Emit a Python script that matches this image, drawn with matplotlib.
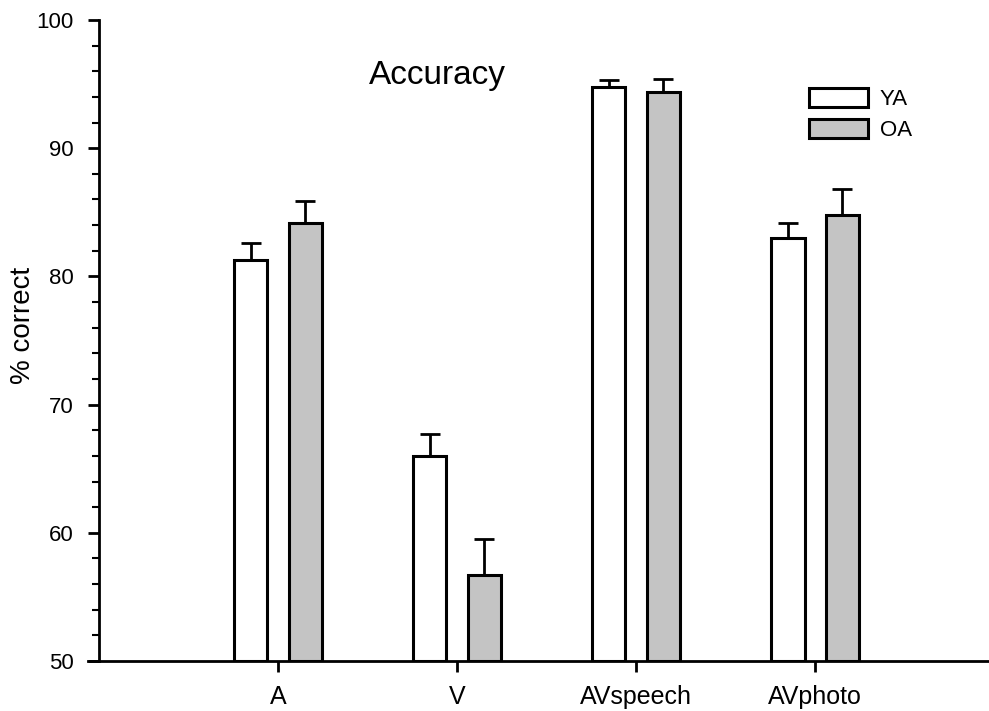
import matplotlib
matplotlib.use("Agg")
import matplotlib.pyplot as plt
import numpy as np

conditions = ["A", "V", "AVspeech", "AVphoto"]
ya_mean = [81.3, 66.0, 94.8, 83.0]
ya_err = [1.3, 1.7, 0.5, 1.2]
oa_mean = [84.2, 56.7, 94.4, 84.8]
oa_err = [1.7, 2.8, 1.0, 2.0]

plt.rcParams["font.family"] = ["Liberation Sans", "DejaVu Sans"]

fig = plt.figure(figsize=(9.89, 7.11), dpi=100)
ax = fig.add_axes([88 / 989, 50 / 711, 901 / 989, 641 / 711])

x = np.arange(1, len(conditions) + 1)
width = 0.185
offset = 0.152

ax.bar(x - offset, np.array(ya_mean) - 50, width, bottom=50, color="white",
       edgecolor="black", linewidth=2.2, label="YA", zorder=2)
ax.bar(x + offset, np.array(oa_mean) - 50, width, bottom=50, color="#c4c4c4",
       edgecolor="black", linewidth=2.2, label="OA", zorder=2)

# nur obere Fehlerbalken
ax.errorbar(x - offset, ya_mean, yerr=[np.zeros(len(x)), ya_err], fmt="none",
            ecolor="black", elinewidth=2.0, capsize=7.5, capthick=2.0, zorder=1)
ax.errorbar(x + offset, oa_mean, yerr=[np.zeros(len(x)), oa_err], fmt="none",
            ecolor="black", elinewidth=2.0, capsize=7.5, capthick=2.0, zorder=1)

ax.set_xlim(-0.06, 4.97)
ax.set_ylim(50, 100)
ax.spines["left"].set_position(("data", 0))
ax.spines["top"].set_visible(False)
ax.spines["right"].set_visible(False)
ax.spines["left"].set_linewidth(2.0)
ax.spines["bottom"].set_linewidth(2.0)

ax.set_xticks(list(x))
ax.set_xticklabels(conditions, fontsize=18)
ax.set_yticks(range(50, 101, 10))
ax.set_yticks(range(50, 101, 2), minor=True)
ax.tick_params(axis="y", which="major", labelsize=16, length=8, width=2,
               direction="out", pad=10)
ax.tick_params(axis="y", which="minor", length=5, width=1.5, direction="out")
ax.tick_params(axis="x", length=8, width=2, direction="out", pad=9)

ax.set_ylabel("% correct", fontsize=20, va="center")
ax.yaxis.set_label_coords(-0.072, 0.524)
ax.text(1.89, 95.7, "Accuracy", fontsize=24, ha="center", va="center")

leg = ax.legend(loc="upper left", bbox_to_anchor=(0.800, 0.894), frameon=False,
                fontsize=16, handlelength=2.65, handleheight=0.95,
                labelspacing=0.4, handletextpad=0.55, borderpad=0,
                borderaxespad=0)

fig.savefig("out.png", dpi=100)
